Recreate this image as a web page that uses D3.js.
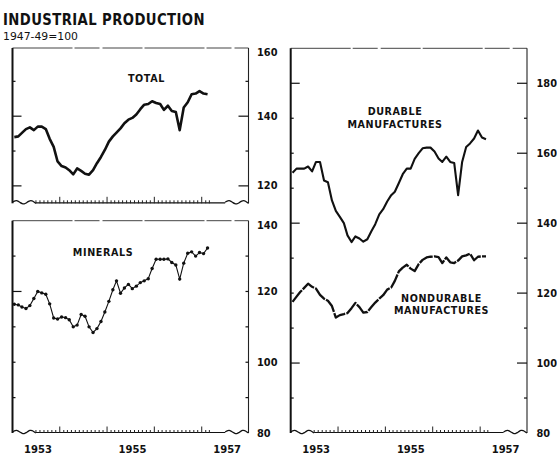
<!DOCTYPE html>
<html>
<head>
<meta charset="utf-8">
<script src="https://cdn.jsdelivr.net/npm/d3@7"></script>
<style>
  body { margin: 0; background: #fff; }
  text { font-family: "DejaVu Sans", sans-serif; fill: #111; }
</style>
</head>
<body>
<svg id="svg" width="557" height="454"></svg>
<script>
// monthly index, 1947-49=100, Jan 1953 - Feb 1957
var total = [134, 134.2, 135.2, 136.3, 136.8, 136, 137, 137, 136.3, 133.5, 131.2, 127,
             125.7, 125.3, 124.5, 123.3, 125, 124.3, 123.5, 123.2, 124.5, 126.5, 128.3, 130.3,
             132.7, 134.2, 135.3, 136.5, 138, 139, 139.5, 140.5, 142, 143.3, 143.5, 144.3,
             143.8, 143.5, 141.8, 143, 141.5, 141.2, 136, 142.5, 144, 146.3, 146.5, 147.2,
             146.5, 146.3];
var minerals = [116.4, 116.2, 115.6, 115.2, 116, 118, 120, 119.6, 119.2, 116.5, 112.5, 112.2,
                112.8, 112.6, 112, 110, 110.5, 113.5, 113, 110, 108.4, 109.5, 111.5, 114.2,
                117.2, 120.5, 123, 119.5, 121, 122, 120.8, 121.5, 122.5, 123, 123.6, 126.5,
                129.1, 129.1, 129.1, 129.2, 128.2, 127.5, 123.5, 128, 130.8, 131.2, 130, 131,
                130.7, 132.3];
var durable = [154.4, 155.6, 155.6, 155.6, 156.2, 154.8, 157.5, 157.5, 152.2, 151.7, 146.5, 143.5,
               141.8, 140, 136.5, 134.6, 136.2, 135.6, 134.7, 135.4, 137.7, 139.7, 142.5, 144,
               146.2, 148, 149, 151.5, 154, 155.6, 155.6, 158.4, 160, 161.4, 161.6, 161.6,
               160.5, 158.5, 157.5, 159, 157.5, 157.2, 148, 157.5, 161.8, 162.8, 164.2, 166.5,
               164.5, 164];
var nondurable = [117.5, 119, 120.3, 121.5, 122.7, 121.8, 121.3, 119.5, 118.4, 117.8, 116.3, 113,
                  113.7, 114, 114.3, 115.7, 117.2, 116, 114.4, 114.6, 116, 117.3, 118.4, 119.4,
                  121, 121.6, 123.5, 126.2, 127.3, 128.1, 127, 126.3, 128.3, 129.5, 130.2, 130.4,
                  130.5, 130.3, 128.6, 130.2, 128.8, 128.6, 129.3, 130.5, 130.8, 131.3, 129.4, 130.4,
                  130.5, 130.5];

var totalTicks = [160, 140, 120];
var mineralTicks = [140, 120, 100, 80];
var manufTicks = [180, 160, 140, 120, 100, 80];
var yearLabels = [1953, 1955, 1957];

var months = d3.timeMonth.range(new Date(1953, 0, 1), new Date(1957, 2, 1));

var svg = d3.select("#svg");

function midMonth(d){
  return new Date(d.getFullYear(), d.getMonth(), 15);
}

var xLeft = d3.scaleTime().domain([new Date(1953, 0, 1), new Date(1958, 0, 1)]).range([12.5, 249]);
var xRight = d3.scaleTime().domain([new Date(1953, 0, 1), new Date(1958, 0, 1)]).range([290.7, 527.5]);

var yTotal = d3.scaleLinear().domain([115, 160]).range([203.3, 46.5]);
var yMin = d3.scaleLinear().domain([80, 140]).range([433, 220.7]);
var yMan = d3.scaleLinear().domain([80, 190]).range([433, 48.3]);

function wavePath(x0, x1, y){
  var pts = [];
  var n = 12;
  for (var i = 0; i <= n; i++) {
    var t = i / n;
    pts.push([x0 + (x1 - x0) * t, y - 1.8 * Math.sin(t * Math.PI * 3.2)]);
  }
  return d3.line().curve(d3.curveBasis)(pts);
}

function addPanel(x, y, opts){
  var g = svg.append("g");
  var x0 = x.range()[0], x1 = x.range()[1] - 0.5;
  var top = y.range()[1] + (opts.topPad || 0), bottom = y.range()[0];

  // top and right border
  g.append("line").attr("x1", x0).attr("x2", x1).attr("y1", top).attr("y2", top)
    .attr("stroke", "#444").attr("stroke-width", 1).attr("stroke-dasharray", "60,2,25,3,40,2");
  g.append("line").attr("x1", x1).attr("x2", x1).attr("y1", top).attr("y2", bottom)
    .attr("stroke", "#222").attr("stroke-width", 1.1);
  // left border
  g.append("line").attr("x1", x0).attr("x2", x0).attr("y1", top).attr("y2", bottom)
    .attr("stroke", "#111").attr("stroke-width", 2);

  // bottom axis with breaks at the ends
  var wl = x(new Date(1953, 6, 1)), wr = x(new Date(1957, 6, 1));
  g.append("path").attr("d", wavePath(x0, wl, bottom - 1)).attr("fill", "none")
    .attr("stroke", "#111").attr("stroke-width", 1.3);
  g.append("path").attr("d", wavePath(wr, x1, bottom - 1)).attr("fill", "none")
    .attr("stroke", "#111").attr("stroke-width", 1.3);
  g.append("line").attr("x1", wl).attr("x2", wr).attr("y1", bottom - 0.5).attr("y2", bottom - 0.5)
    .attr("stroke", "#111").attr("stroke-width", 1.2);

  var ticks = d3.timeMonth.range(new Date(1953, 6, 1), new Date(1957, 3, 1));
  g.selectAll(".mtick").data(ticks).enter().append("line")
    .attr("x1", function(d){ return x(d); })
    .attr("x2", function(d){ return x(d); })
    .attr("y1", bottom)
    .attr("y2", function(d){
      if (d.getMonth() === 0) { return bottom - 6.5; }
      return bottom - 3;
    })
    .attr("stroke", "#222").attr("stroke-width", 1);

  // y ticks
  g.selectAll(".lt").data(opts.leftTicks).enter().append("line")
    .attr("x1", x0).attr("x2", function(d){ return x0 + (opts.leftLong.indexOf(d) >= 0 ? 9 : 3); })
    .attr("y1", function(d){ return y(d); }).attr("y2", function(d){ return y(d); })
    .attr("stroke", "#111").attr("stroke-width", 1.2);
  g.selectAll(".rt").data(opts.rightTicks).enter().append("line")
    .attr("x1", x1).attr("x2", function(d){ return x1 - (opts.rightLong.indexOf(d) >= 0 ? 10 : 3); })
    .attr("y1", function(d){ return y(d); }).attr("y2", function(d){ return y(d); })
    .attr("stroke", "#111").attr("stroke-width", 1.2);

  if (opts.years) {
    g.selectAll(".yr").data(yearLabels).enter().append("text")
      .attr("x", function(d){ return x(new Date(d, 6, 1)) + 2; })
      .attr("y", 452.5)
      .attr("text-anchor", "middle")
      .attr("font-size", 10).attr("font-weight", "bold")
      .text(function(d){ return d; });
  }
  return g;
}

function addValueLabels(labels, y, xPos, top){
  svg.append("g").selectAll("text").data(labels).enter().append("text")
    .attr("x", xPos)
    .attr("y", function(d){ return Math.max(y(d), top + 4.5) + 3.6; })
    .attr("font-size", 9.8).attr("font-weight", "bold")
    .text(function(d){ return d; });
}

addPanel(xLeft, yTotal, {
  topPad: 1.5,
  leftTicks: [150, 140, 130, 120], leftLong: [140, 120],
  rightTicks: [150, 140, 130, 120], rightLong: [140, 120]
});
addPanel(xLeft, yMin, {
  leftTicks: [130, 120, 110, 100, 90], leftLong: [120],
  rightTicks: [130, 120, 110, 100, 90], rightLong: [],
  years: true
});
addPanel(xRight, yMan, {
  leftTicks: [180, 170, 160, 150, 140, 130, 120, 110, 100, 90], leftLong: [180, 140, 100],
  rightTicks: [180, 170, 160, 150, 140, 130, 120, 110, 100, 90], rightLong: [180, 160, 140, 120, 100],
  years: true
});

addValueLabels(totalTicks, yTotal, 257, 48);
addValueLabels(mineralTicks, yMin, 257, 220.7);
addValueLabels(manufTicks, yMan, 536.5, 48.3);

// series
function seriesLine(x, y){
  return d3.line()
    .x(function(d, i){ return x(midMonth(months[i])); })
    .y(function(d){ return y(d); })
    .curve(d3.curveLinear);
}

svg.append("path").datum(total).attr("d", seriesLine(xLeft, yTotal))
  .attr("fill", "none").attr("stroke", "#111").attr("stroke-width", 2.6)
  .attr("stroke-linejoin", "round");

svg.append("path").datum(minerals).attr("d", seriesLine(xLeft, yMin))
  .attr("fill", "none").attr("stroke", "#111").attr("stroke-width", 1.1);
svg.append("g").selectAll("circle").data(minerals).enter().append("circle")
  .attr("cx", function(d, i){ return xLeft(midMonth(months[i])); })
  .attr("cy", function(d){ return yMin(d); })
  .attr("r", 1.7).attr("fill", "#111");

svg.append("path").datum(durable).attr("d", seriesLine(xRight, yMan))
  .attr("fill", "none").attr("stroke", "#111").attr("stroke-width", 2.1)
  .attr("stroke-linejoin", "round");

svg.append("path").datum(nondurable).attr("d", seriesLine(xRight, yMan))
  .attr("fill", "none").attr("stroke", "#111").attr("stroke-width", 2.3)
  .attr("stroke-dasharray", "15,1.2").attr("stroke-linejoin", "round");

// panel names
function addName(lines, cx, y0){
  svg.append("g").selectAll("text").data(lines).enter().append("text")
    .attr("x", cx).attr("y", function(d, i){ return y0 + i * 12.3; })
    .attr("text-anchor", "middle")
    .attr("font-size", 9.6).attr("font-weight", "bold").attr("letter-spacing", 0.6)
    .text(function(d){ return d; });
}
addName(["TOTAL"], 146.5, 81.8);
addName(["MINERALS"], 103, 255.8);
addName(["DURABLE", "MANUFACTURES"], 395, 115.2);
addName(["NONDURABLE", "MANUFACTURES"], 441.5, 301.8);

// title
svg.append("text").attr("x", 3).attr("y", 25)
  .attr("font-size", 16.5).attr("font-weight", "bold").attr("letter-spacing", 0.5)
  .attr("textLength", 202).attr("lengthAdjust", "spacingAndGlyphs")
  .text("INDUSTRIAL  PRODUCTION");
svg.append("text").attr("x", 3).attr("y", 39.5)
  .attr("font-size", 10)
  .attr("textLength", 75).attr("lengthAdjust", "spacingAndGlyphs")
  .text("1947-49=100");
</script>
</body>
</html>
